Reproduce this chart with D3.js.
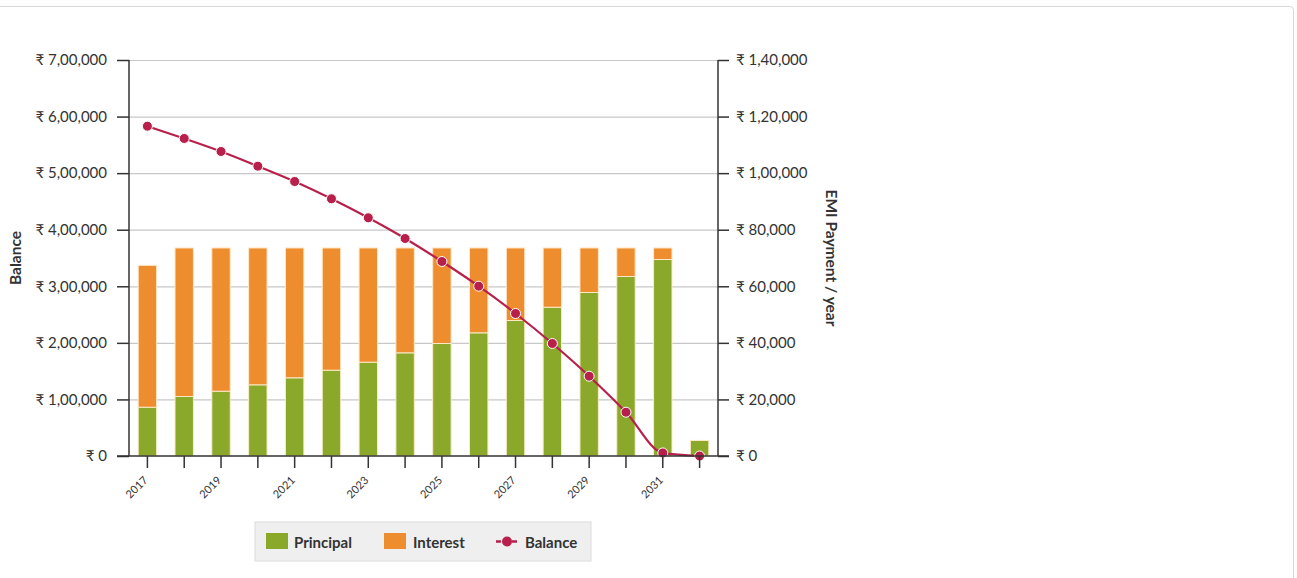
<!DOCTYPE html>
<html>
<head>
  <title>EMI Chart</title>
  <script src="https://d3js.org/d3.v7.min.js"></script>
  <style>
    body { margin: 0; background: #fff; font-family: Lato, "DejaVu Sans", sans-serif; }
    #card { position: absolute; left: -6px; top: 6px; width: 1300px; height: 600px;
            border: 1px solid #d8d8d8; border-radius: 4px; box-sizing: border-box; }
    #chart { position: absolute; left: 0; top: 0; }
  </style>
</head>
<body>
  <div id="card"></div>
  <div id="chart"></div>

  <script>
    const years = ["2017", "2018", "2019", "2020", "2021", "2022", "2023", "2024",
                   "2025", "2026", "2027", "2028", "2029", "2030", "2031", "2032"];
    const principal = [17250, 21040, 22910, 25170, 27650, 30330, 33160, 36480,
                       39770, 43550, 47900, 52610, 57800, 63460, 69470, 5480];
    const interest = [50150, 52510, 50640, 48380, 45900, 43220, 40390, 37070,
                      33780, 30000, 25650, 20940, 15750, 10090, 4080, 40];
    const balance = [583000, 561250, 538270, 512290, 485240, 454660, 421080, 384480,
                     343820, 300160, 251900, 198870, 141070, 77430, 5450, 0];
    const balanceTicks = [0, 100000, 200000, 300000, 400000, 500000, 600000, 700000];
    const emiTicks = [0, 20000, 40000, 60000, 80000, 100000, 120000, 140000];

    const W = 1297, H = 578;
    const plotL = 129, plotR = 718, plotT = 60, plotB = 456;

    const green = "#8aa829", orange = "#ee8d2d", red = "#b8204b";

    const inr = d3.formatLocale({decimal: ".", thousands: ",", grouping: [3, 2, 2, 2, 2], currency: ["₹", ""]});
    const fmt = v => "₹ " + inr.format(",")(v);

    const svg = d3.select("#chart").append("svg")
      .attr("width", W)
      .attr("height", H);

    const x = d3.scaleBand().domain(years).range([plotL, plotR]).paddingInner(0.5).paddingOuter(0.25);
    const yBal = d3.scaleLinear().domain([0, 700000]).range([plotB, plotT]);
    const yEmi = d3.scaleLinear().domain([0, 140000]).range([plotB, plotT]);

    // grid
    svg.append("g").selectAll("line").data(balanceTicks.slice(1)).join("line")
      .attr("x1", plotL).attr("x2", plotR)
      .attr("y1", d => yBal(d) + 0.5).attr("y2", d => yBal(d) + 0.5)
      .attr("stroke", "#c8c8c8").attr("stroke-width", 1.2);

    // stacked bars
    const rows = years.map((y, i) => ({year: y, principal: principal[i], interest: interest[i]}));
    const stack = d3.stack().keys(["principal", "interest"])(rows);
    const colors = {principal: green, interest: orange};
    svg.append("g").selectAll("g").data(stack).join("g")
      .attr("fill", d => colors[d.key])
      .selectAll("rect").data(d => d).join("rect")
      .attr("x", d => x(d.data.year))
      .attr("width", x.bandwidth())
      .attr("y", d => yEmi(d[1]))
      .attr("height", d => yEmi(d[0]) - yEmi(d[1]))
      .attr("stroke", "#fbe9c8").attr("stroke-width", 1);

    // balance line
    const cx = d => x(d) + x.bandwidth() / 2;
    const line = d3.line()
      .x((d, i) => cx(years[i]))
      .y(d => yBal(d))
      .curve(d3.curveMonotoneX);
    svg.append("path").datum(balance)
      .attr("d", line)
      .attr("fill", "none")
      .attr("stroke", red)
      .attr("stroke-width", 2.2);
    svg.append("g").selectAll("circle").data(balance).join("circle")
      .attr("cx", (d, i) => cx(years[i]))
      .attr("cy", d => yBal(d))
      .attr("r", 5)
      .attr("fill", red)
      .attr("stroke", "#fff").attr("stroke-width", 1);

    // axes
    const axisColor = "#333";
    const leftAxis = svg.append("g").attr("transform", `translate(${plotL},0)`)
      .call(d3.axisLeft(yBal).tickValues(balanceTicks).tickFormat(fmt).tickSize(12).tickPadding(10));
    const rightAxis = svg.append("g").attr("transform", `translate(${plotR},0)`)
      .call(d3.axisRight(yEmi).tickValues(emiTicks).tickFormat(fmt).tickSize(11).tickPadding(7));
    const xAxis = svg.append("g").attr("transform", `translate(0,${plotB})`)
      .call(d3.axisBottom(x).tickSize(12).tickSizeOuter(0)
        .tickFormat((d, i) => i % 2 === 0 ? d : ""));

    [leftAxis, rightAxis, xAxis].forEach(g => {
      g.select(".domain").attr("stroke", axisColor).attr("stroke-width", 1.5);
      g.selectAll(".tick line").attr("stroke", axisColor).attr("stroke-width", 1.5);
      g.selectAll("text").attr("fill", "#333").attr("font-family", "Lato, 'DejaVu Sans', sans-serif");
    });
    leftAxis.selectAll("text").attr("font-size", 15);
    rightAxis.selectAll("text").attr("font-size", 15);
    leftAxis.select(".domain").attr("d", `M0,${plotT}V${plotB}`);
    rightAxis.select(".domain").attr("d", `M0,${plotT}V${plotB}`);
    xAxis.select(".domain").attr("d", `M${plotL - 12},0H${plotR + 11}`);

    xAxis.selectAll("text")
      .attr("font-size", 11)
      .attr("text-anchor", "end")
      .attr("dy", null)
      .attr("transform", "translate(1,25) rotate(-45)")
      .attr("y", 0).attr("x", 0);

    // axis titles
    svg.append("text")
      .attr("transform", `translate(21,${(plotT + plotB) / 2}) rotate(-90)`)
      .attr("text-anchor", "middle")
      .attr("font-size", 15.5).attr("font-weight", "bold").attr("fill", "#333")
      .text("Balance");
    svg.append("text")
      .attr("transform", `translate(826,${(plotT + plotB) / 2}) rotate(90)`)
      .attr("text-anchor", "middle")
      .attr("font-size", 15.5).attr("font-weight", "bold").attr("fill", "#333")
      .text("EMI Payment / year");

    // legend
    const lg = svg.append("g").attr("transform", "translate(255,522)");
    lg.append("rect").attr("width", 336).attr("height", 39)
      .attr("fill", "#efefef").attr("stroke", "#dcdcdc");
    lg.append("rect").attr("x", 11).attr("y", 11).attr("width", 22).attr("height", 16).attr("fill", green);
    lg.append("text").attr("x", 39).attr("y", 26).text("Principal");
    lg.append("rect").attr("x", 129).attr("y", 11).attr("width", 22).attr("height", 16).attr("fill", orange);
    lg.append("text").attr("x", 158).attr("y", 26).text("Interest");
    lg.append("line").attr("x1", 241).attr("x2", 263).attr("y1", 19.5).attr("y2", 19.5)
      .attr("stroke", red).attr("stroke-width", 2.5).attr("stroke-dasharray", "5,3");
    lg.append("circle").attr("cx", 252).attr("cy", 19.5).attr("r", 5).attr("fill", red);
    lg.append("text").attr("x", 270).attr("y", 26).text("Balance");
    lg.selectAll("text").attr("font-size", 15).attr("font-weight", "bold").attr("fill", "#333");
  </script>
</body>
</html>
